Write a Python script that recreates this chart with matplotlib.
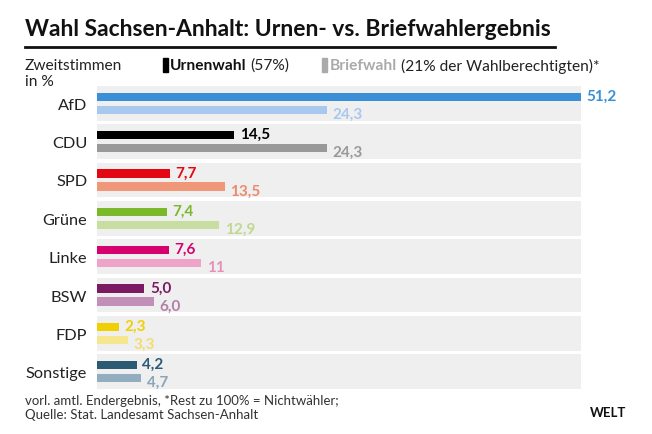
import matplotlib
matplotlib.use("Agg")
import matplotlib.pyplot as plt

plt.rcParams['font.family'] = ['Lato', 'DejaVu Sans']

parties = ["AfD", "CDU", "SPD", "Grüne", "Linke", "BSW", "FDP", "Sonstige"]
urne = [51.2, 14.5, 7.7, 7.4, 7.6, 5.0, 2.3, 4.2]
brief = [24.3, 24.3, 13.5, 12.9, 11.0, 6.0, 3.3, 4.7]
urne_lbl = ["51,2", "14,5", "7,7", "7,4", "7,6", "5,0", "2,3", "4,2"]
brief_lbl = ["24,3", "24,3", "13,5", "12,9", "11", "6,0", "3,3", "4,7"]
c_urne = ["#3a8fd6", "#000000", "#e30613", "#7ab929", "#d6006f", "#7b1a62", "#f0d000", "#2b5a73"]
c_brief = ["#a9c8ee", "#999999", "#f0977a", "#c8dea0", "#eea4c8", "#c28fb8", "#f7e690", "#93adc0"]
c_blbl = ["#a9c8ee", "#999999", "#ec8a6c", "#c0d890", "#e890bc", "#b080a8", "#f3dc70", "#8aa5b8"]

W, H = 652, 435
fig = plt.figure(figsize=(W/100, H/100), dpi=100)
ax = fig.add_axes([97/W, (H-390)/H, (581-97)/W, (390-87)/H])
xmax = 51.2
n = len(parties)
y = list(range(n))
ax.barh(y, [xmax]*n, height=0.9, color="#efefef", zorder=0)
bh = 0.22
ax.barh([v-0.17 for v in y], urne, height=bh, color=c_urne, zorder=2)
ax.barh([v+0.17 for v in y], brief, height=bh, color=c_brief, zorder=2)
for i in range(n):
    ax.text(urne[i]+0.6, i-0.2, urne_lbl[i], color=c_urne[i], fontsize=11, fontweight='bold', va='center', ha='left', clip_on=False)
    ax.text(brief[i]+0.6, i+0.27, brief_lbl[i], color=c_blbl[i], fontsize=11, fontweight='bold', va='center', ha='left', clip_on=False)
ax.set_xlim(0, xmax)
ax.set_ylim(n-0.55, -0.45)
ax.set_yticks(y)
ax.set_yticklabels(parties, fontsize=11.8, color="#222222")
ax.tick_params(axis='y', length=0, pad=7)
ax.set_xticks([])
for s in ax.spines.values():
    s.set_visible(False)

fig.text(25/W, 1-30/H, "Wahl Sachsen-Anhalt: Urnen- vs. Briefwahlergebnis", fontsize=16.5, fontweight='bold', va='center', ha='left', color="#111111")
fig.add_artist(plt.Line2D([25/W, 555/W], [1-48/H, 1-48/H], color="#111111", lw=2))
fig.text(25/W, 1-66/H, "Zweitstimmen", fontsize=11.2, va='center', color="#222222")
fig.text(25/W, 1-82/H, "in %", fontsize=11.2, va='center', color="#222222")

fig.canvas.draw()
r = fig.canvas.get_renderer()
def chain(x, s, **kw):
    t = fig.text(x/W, 1-66/H, s, fontsize=11.2, va='center', **kw)
    bb = t.get_window_extent(r)
    return bb.x1
fig.add_artist(plt.Rectangle((163/W, 1-73/H), 5/W, 14/H, color="#000000", transform=fig.transFigure))
x = chain(170, "Urnenwahl", fontweight='bold', color="#111111")
chain(x+4, "(57%)", color="#222222")
fig.add_artist(plt.Rectangle((322/W, 1-73/H), 5/W, 14/H, color="#aaaaaa", transform=fig.transFigure))
x = chain(330, "Briefwahl", fontweight='bold', color="#aaaaaa")
chain(x+4, "(21% der Wahlberechtigten)*", color="#222222")
fig.text(25/W, 1-401/H, "vorl. amtl. Endergebnis, *Rest zu 100% = Nichtwähler;", fontsize=9.5, va='center', color="#333333")
fig.text(25/W, 1-415/H, "Quelle: Stat. Landesamt Sachsen-Anhalt", fontsize=9.5, va='center', color="#333333")
fig.text(626/W, 1-413/H, "WELT", fontsize=9.5, fontweight='bold', va='center', ha='right', color="#111111")
fig.savefig("out.png", dpi=100, facecolor="white")
